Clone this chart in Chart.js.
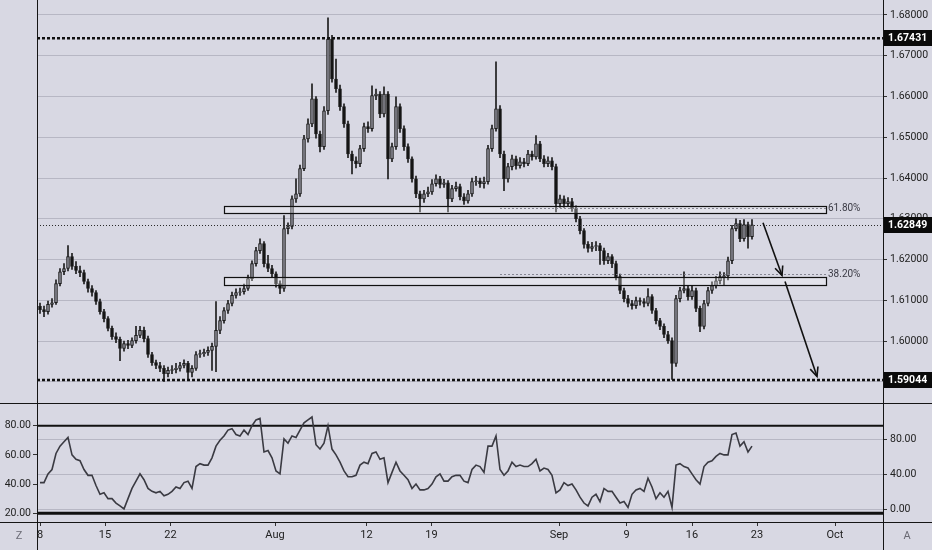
<!DOCTYPE html>
<html><head><meta charset="utf-8">
<script src="https://cdn.jsdelivr.net/npm/chart.js@4.4.0/dist/chart.umd.min.js"></script>
<style>
html,body{margin:0;padding:0;background:#d8d8e3;width:932px;height:550px;overflow:hidden}
#c1{position:absolute;left:0;top:0}
#c2{position:absolute;left:0;top:404px}
</style></head><body>
<canvas id="c1" width="932" height="404"></canvas>
<canvas id="c2" width="932" height="146"></canvas>
<script>
// ---- data (price candles, one per bar index) ----
const opens = [1.6085,1.6077,1.6072,1.6090,1.6094,1.6141,1.6170,1.6178,1.6207,1.6183,
 1.6173,1.6168,1.6146,1.6129,1.6119,1.6097,1.6072,1.6055,1.6031,1.6011,
 1.6004,1.5982,1.5994,1.5989,1.6001,1.6014,1.6026,1.6006,1.5967,1.5947,
 1.5940,1.5933,1.5920,1.5928,1.5930,1.5933,1.5940,1.5945,1.5923,1.5933,
 1.5967,1.5969,1.5972,1.5977,1.5987,1.6026,1.6050,1.6075,1.6092,1.6112,
 1.6119,1.6121,1.6129,1.6153,1.6190,1.6222,1.6239,1.6190,1.6178,1.6165,
 1.6141,1.6129,1.6276,1.6281,1.6349,1.6361,1.6423,1.6496,1.6533,1.6594,
 1.6508,1.6477,1.6565,1.6741,1.6643,1.6619,1.6575,1.6533,1.6459,1.6442,
 1.6435,1.6472,1.6526,1.6521,1.6602,1.6606,1.6557,1.6606,1.6447,1.6477,
 1.6575,1.6521,1.6477,1.6447,1.6398,1.6361,1.6349,1.6361,1.6366,1.6386,
 1.6398,1.6384,1.6388,1.6349,1.6374,1.6379,1.6354,1.6344,1.6361,1.6391,
 1.6393,1.6386,1.6391,1.6472,1.6521,1.6570,1.6459,1.6398,1.6428,1.6447,
 1.6430,1.6440,1.6435,1.6459,1.6452,1.6484,1.6447,1.6435,1.6442,1.6428,
 1.6337,1.6349,1.6337,1.6342,1.6325,1.6300,1.6271,1.6237,1.6227,1.6232,
 1.6234,1.6222,1.6197,1.6207,1.6190,1.6158,1.6124,1.6104,1.6092,1.6087,
 1.6099,1.6097,1.6092,1.6109,1.6075,1.6050,1.6036,1.6016,1.6001,1.5945,
 1.6104,1.6124,1.6129,1.6109,1.6124,1.6080,1.6036,1.6092,1.6124,1.6136,
 1.6148,1.6158,1.6160,1.6197,1.6276,1.6288,1.6251,1.6286,1.6256];
const highs = [1.6093,1.6086,1.6098,1.6104,1.6150,1.6178,1.6190,1.6234,1.6215,1.6195,
 1.6184,1.6174,1.6152,1.6136,1.6124,1.6103,1.6078,1.6060,1.6037,1.6020,
 1.6010,1.6000,1.6002,1.6008,1.6036,1.6036,1.6034,1.6012,1.5972,1.5953,
 1.5948,1.5940,1.5936,1.5940,1.5945,1.5948,1.5954,1.5950,1.5940,1.5974,
 1.5978,1.5980,1.5986,1.5995,1.6097,1.6060,1.6082,1.6100,1.6120,1.6128,
 1.6130,1.6140,1.6162,1.6197,1.6230,1.6251,1.6244,1.6210,1.6186,1.6170,
 1.6148,1.6308,1.6290,1.6356,1.6398,1.6432,1.6505,1.6545,1.6631,1.6600,
 1.6515,1.6575,1.6793,1.6750,1.6692,1.6628,1.6582,1.6540,1.6466,1.6452,
 1.6480,1.6535,1.6538,1.6626,1.6618,1.6612,1.6624,1.6612,1.6486,1.6599,
 1.6582,1.6528,1.6484,1.6452,1.6405,1.6368,1.6370,1.6378,1.6396,1.6408,
 1.6404,1.6397,1.6394,1.6382,1.6390,1.6385,1.6362,1.6370,1.6400,1.6404,
 1.6400,1.6402,1.6480,1.6530,1.6685,1.6578,1.6466,1.6436,1.6456,1.6454,
 1.6450,1.6448,1.6468,1.6466,1.6504,1.6490,1.6455,1.6452,1.6450,1.6434,
 1.6358,1.6356,1.6352,1.6350,1.6332,1.6306,1.6276,1.6244,1.6242,1.6244,
 1.6240,1.6228,1.6215,1.6212,1.6196,1.6164,1.6130,1.6112,1.6100,1.6108,
 1.6106,1.6104,1.6129,1.6114,1.6080,1.6056,1.6042,1.6024,1.6008,1.6112,
 1.6132,1.6170,1.6136,1.6134,1.6130,1.6086,1.6100,1.6132,1.6145,1.6158,
 1.6170,1.6168,1.6206,1.6284,1.6300,1.6296,1.6298,1.6292,1.6298];
const lows = [1.6068,1.6060,1.6066,1.6083,1.6090,1.6135,1.6163,1.6172,1.6176,1.6165,
 1.6158,1.6140,1.6120,1.6110,1.6090,1.6066,1.6047,1.6025,1.6004,1.5996,
 1.5952,1.5975,1.5981,1.5984,1.5995,1.6008,1.5998,1.5960,1.5940,1.5932,
 1.5925,1.5901,1.5912,1.5920,1.5922,1.5926,1.5934,1.5903,1.5912,1.5928,
 1.5960,1.5962,1.5965,1.5928,1.5925,1.6018,1.6044,1.6068,1.6086,1.6105,
 1.6112,1.6115,1.6124,1.6148,1.6184,1.6215,1.6182,1.6170,1.6158,1.6132,
 1.6116,1.6122,1.6263,1.6275,1.6340,1.6355,1.6418,1.6488,1.6526,1.6498,
 1.6464,1.6470,1.6556,1.6635,1.6610,1.6566,1.6524,1.6450,1.6410,1.6425,
 1.6428,1.6465,1.6512,1.6515,1.6592,1.6548,1.6550,1.6398,1.6440,1.6470,
 1.6512,1.6468,1.6438,1.6390,1.6352,1.6317,1.6340,1.6354,1.6360,1.6380,
 1.6376,1.6377,1.6317,1.6342,1.6368,1.6346,1.6335,1.6338,1.6355,1.6382,
 1.6377,1.6375,1.6385,1.6465,1.6515,1.6450,1.6369,1.6390,1.6420,1.6422,
 1.6424,1.6427,1.6430,1.6444,1.6446,1.6440,1.6427,1.6428,1.6420,1.6317,
 1.6328,1.6328,1.6330,1.6318,1.6292,1.6263,1.6228,1.6218,1.6220,1.6222,
 1.6188,1.6188,1.6190,1.6180,1.6150,1.6116,1.6096,1.6084,1.6078,1.6080,
 1.6088,1.6084,1.6086,1.6068,1.6042,1.6028,1.6008,1.5994,1.5906,1.5938,
 1.6096,1.6118,1.6100,1.6102,1.6072,1.6023,1.6030,1.6086,1.6117,1.6130,
 1.6140,1.6136,1.6150,1.6190,1.6270,1.6244,1.6245,1.6228,1.6250];
const closes = [1.6077,1.6072,1.6090,1.6094,1.6141,1.6170,1.6178,1.6207,1.6183,1.6173,
 1.6168,1.6146,1.6129,1.6119,1.6097,1.6072,1.6055,1.6031,1.6011,1.6004,
 1.5982,1.5994,1.5989,1.6001,1.6014,1.6026,1.6006,1.5967,1.5947,1.5940,
 1.5933,1.5920,1.5928,1.5930,1.5933,1.5940,1.5945,1.5923,1.5933,1.5967,
 1.5969,1.5972,1.5977,1.5987,1.6026,1.6050,1.6075,1.6092,1.6112,1.6119,
 1.6121,1.6129,1.6153,1.6190,1.6222,1.6239,1.6190,1.6178,1.6165,1.6141,
 1.6129,1.6276,1.6281,1.6349,1.6361,1.6423,1.6496,1.6533,1.6594,1.6508,
 1.6477,1.6565,1.6741,1.6643,1.6619,1.6575,1.6533,1.6459,1.6442,1.6435,
 1.6472,1.6526,1.6521,1.6602,1.6606,1.6557,1.6606,1.6447,1.6477,1.6575,
 1.6521,1.6477,1.6447,1.6398,1.6361,1.6349,1.6361,1.6366,1.6386,1.6398,
 1.6384,1.6388,1.6349,1.6374,1.6379,1.6354,1.6344,1.6361,1.6391,1.6393,
 1.6386,1.6391,1.6472,1.6521,1.6570,1.6459,1.6398,1.6428,1.6447,1.6430,
 1.6440,1.6435,1.6459,1.6452,1.6484,1.6447,1.6435,1.6442,1.6428,1.6337,
 1.6349,1.6337,1.6342,1.6325,1.6300,1.6271,1.6237,1.6227,1.6232,1.6234,
 1.6222,1.6197,1.6207,1.6190,1.6158,1.6124,1.6104,1.6092,1.6087,1.6099,
 1.6097,1.6092,1.6109,1.6075,1.6050,1.6036,1.6016,1.6001,1.5945,1.6104,
 1.6124,1.6129,1.6109,1.6124,1.6080,1.6036,1.6092,1.6124,1.6136,1.6148,
 1.6158,1.6160,1.6197,1.6276,1.6288,1.6251,1.6286,1.6256,1.6285];
const rsiValues = [41,41,47,50,61,66,69,72,60,57,
 56,50,46,46,39,33,34,30,30,27,
 25,23,30,37,42,47,43,37,35,34,
 35,32,33,35,38,37,41,42,37,52,
 54,53,53,58,66,70,73,77,78,74,
 73,77,74,80,84,85,62,63,58,49,
 47,71,68,73,72,77,82,84,86,67,
 64,68,80,64,60,55,49,45,45,46,
 53,55,54,61,62,57,58,41,48,55,
 49,46,43,37,40,36,36,37,40,45,
 47,42,42,45,46,46,42,41,50,53,
 52,48,66,66,73,50,46,49,55,52,
 53,52,52,54,57,49,51,50,46,34,
 36,41,39,40,36,31,27,25,31,33,
 28,37,35,35,31,27,28,24,33,36,
 37,35,44,38,30,34,31,35,24,53,
 54,52,51,47,43,40,52,55,56,59,
 61,60,60,74,75,66,69,62,66];

// ---- axis ticks ----
const xTickPositions = [0,16.25,32.625,58.75,81.625,97.875,129.75,146.625,163,179.25,198.75];
const xTickLabels = ['8','15','22','Aug','12','19','Sep','9','16','23','Oct'];
const priceTicks = [1.59,1.60,1.61,1.62,1.63,1.64,1.65,1.66,1.67,1.68];
const rsiLeftTicks = [20,40,60,80];
const rsiRightTicks = [0,40,80];
const rsiBands = [80,20];

// ---- drawings (in data units) ----
const dashedLevels = [1.67431, 1.59044];
const currentPrice = 1.62849;
const labelledLevels = [1.67431, 1.62849, 1.59044];
const zones = [[46,196.5,1.6332,1.6315],[46,196.5,1.6156,1.6138]];
const fibLevels = [1.6327, 1.6165];
const fibLabels = ['61.80%','38.20%'];
const fibRange = [115,196.5];
const arrows = [[180.75,1.6290,185.5,1.6161],[186.25,1.6146,194.25,1.5913]];

const X_MIN=-0.75, X_MAX=210.75;
const FONT = "Roboto,'Liberation Sans',sans-serif";
const UP_FILL='#85858f', DOWN_FILL='#141414', EDGE='#1c1c1c';

function zeroPad(s){s.paddingTop=0;s.paddingBottom=0;s.paddingLeft=0;s.paddingRight=0;}
function seg(ctx,x1,y1,x2,y2){ctx.beginPath();ctx.moveTo(x1,y1);ctx.lineTo(x2,y2);ctx.stroke();}
function arrow(ctx,x1,y1,x2,y2){
  seg(ctx,x1,y1,x2,y2);
  const a=Math.atan2(y2-y1,x2-x1),L=10,w=0.42;
  ctx.beginPath();
  ctx.moveTo(x2-L*Math.cos(a-w),y2-L*Math.sin(a-w));
  ctx.lineTo(x2,y2);
  ctx.lineTo(x2-L*Math.cos(a+w),y2-L*Math.sin(a+w));
  ctx.stroke();
}

const bodyData = closes.map((c,i)=>({x:i,y:[opens[i],c]}));
const wickData = closes.map((c,i)=>({x:i,y:[lows[i],highs[i]]}));
const isUp = i => closes[i] >= opens[i];

const mainPlugin = {
  id:'mainAnnot',
  afterDatasetsDraw(chart){
    const {ctx, chartArea:a, scales:{x,y}} = chart;
    ctx.save();
    ctx.setLineDash([]); ctx.lineWidth=1.2; ctx.strokeStyle='#111';
    ctx.fillStyle='rgba(255,255,255,0.28)';
    zones.forEach(z=>{
      const x1=Math.round(x.getPixelForValue(z[0]))+0.5, x2=Math.round(x.getPixelForValue(z[1]))+0.5;
      const y1=Math.round(y.getPixelForValue(z[2]))+0.5, y2=Math.round(y.getPixelForValue(z[3]))+0.5;
      ctx.fillRect(x1,y1,x2-x1,y2-y1); ctx.strokeRect(x1,y1,x2-x1,y2-y1);
    });
    ctx.setLineDash([2,2]); ctx.lineWidth=1; ctx.strokeStyle='rgba(125,125,138,0.9)';
    const fx1=x.getPixelForValue(fibRange[0]), fx2=x.getPixelForValue(fibRange[1]);
    fibLevels.forEach((p,k)=>{
      const yy=Math.round(y.getPixelForValue(p))+0.5;
      seg(ctx,fx1,yy,fx2,yy);
      ctx.fillStyle='#3a3a44'; ctx.font='10px '+FONT; ctx.textAlign='left'; ctx.textBaseline='middle';
      ctx.fillText(fibLabels[k], fx2+2, yy);
    });
    ctx.setLineDash([1,2]); ctx.lineWidth=1; ctx.strokeStyle='#2a2a2a';
    let yc=Math.round(y.getPixelForValue(currentPrice))+0.5;
    seg(ctx,a.left,yc,a.right,yc);
    ctx.setLineDash([3,2]); ctx.lineWidth=2.5; ctx.strokeStyle='#111';
    dashedLevels.forEach(p=>{const yy=y.getPixelForValue(p); seg(ctx,a.left,yy,a.right,yy);});
    ctx.setLineDash([]); ctx.lineWidth=1.6; ctx.strokeStyle='#111';
    arrows.forEach(r=>arrow(ctx,x.getPixelForValue(r[0]),y.getPixelForValue(r[1]),x.getPixelForValue(r[2]),y.getPixelForValue(r[3])));
    ctx.restore();
  },
  afterDraw(chart){
    const {ctx, scales:{y}} = chart;
    ctx.save();
    ctx.strokeStyle='#151515'; ctx.lineWidth=1; ctx.setLineDash([]);
    seg(ctx,37.5,0,37.5,404); seg(ctx,883.5,0,883.5,404); seg(ctx,0,403.5,932,403.5);
    labelledLevels.forEach(p=>{
      const yy=Math.round(y.getPixelForValue(p));
      ctx.fillStyle='#0a0a0a'; ctx.fillRect(884,yy-8,48,16);
      ctx.fillStyle='#ffffff'; ctx.font='bold 10.5px '+FONT; ctx.textAlign='left'; ctx.textBaseline='middle';
      ctx.fillText(p.toFixed(5),888,yy+0.5);
    });
    ctx.restore();
  }
};

new Chart(document.getElementById('c1'),{
  type:'bar',
  data:{datasets:[
    {label:'body',data:bodyData,order:0,grouped:false,barThickness:3,borderWidth:1,borderSkipped:false,
     backgroundColor:c=>isUp(c.dataIndex)?UP_FILL:DOWN_FILL,borderColor:EDGE},
    {label:'wick',data:wickData,order:1,grouped:false,barThickness:1,borderWidth:0,backgroundColor:'#1c1c1c'}
  ]},
  options:{
    responsive:false,animation:false,devicePixelRatio:1,
    layout:{padding:{left:37,right:0,top:0,bottom:0}},
    plugins:{legend:{display:false},tooltip:{enabled:false}},
    scales:{
      x:{type:'linear',display:false,min:X_MIN,max:X_MAX,offset:false},
      y:{position:'right',min:1.58455,max:1.68368,
         afterBuildTicks(s){s.ticks=priceTicks.map(v=>({value:v}));},
         afterFit(s){s.width=49;zeroPad(s);},
         ticks:{callback:v=>Number(v).toFixed(5),color:'#222',font:{family:FONT,size:10.5},padding:3},
         grid:{color:'#b7b7c4',tickColor:'#333',tickLength:4,lineWidth:1},
         border:{display:false}}
    }
  },
  plugins:[mainPlugin]
});

const rsiPlugin = {
  id:'rsiAnnot',
  beforeDatasetsDraw(chart){
    const {ctx, chartArea:a, scales:{yL}} = chart;
    ctx.save(); ctx.strokeStyle='#111';
    rsiBands.forEach((v,k)=>{ctx.lineWidth=k===0?2:3; const yy=yL.getPixelForValue(v); seg(ctx,a.left,yy,a.right,yy);});
    ctx.restore();
  },
  afterDraw(chart){
    const {ctx} = chart;
    ctx.save(); ctx.strokeStyle='#151515'; ctx.lineWidth=1;
    seg(ctx,37.5,0,37.5,146); seg(ctx,883.5,0,883.5,146); seg(ctx,0,118.5,932,118.5);
    ctx.fillStyle='#6a6a74'; ctx.font='11px '+FONT; ctx.textAlign='center'; ctx.textBaseline='middle';
    ctx.fillText('Z',19,132); ctx.fillText('A',907,132);
    ctx.restore();
  }
};

new Chart(document.getElementById('c2'),{
  type:'line',
  data:{datasets:[{data:rsiValues.map((v,i)=>({x:i,y:v})),yAxisID:'yL',borderColor:'#3a3a42',borderWidth:1.6,pointRadius:0,tension:0,fill:false}]},
  options:{
    responsive:false,animation:false,devicePixelRatio:1,
    layout:{padding:0},
    plugins:{legend:{display:false},tooltip:{enabled:false}},
    scales:{
      x:{type:'linear',min:X_MIN,max:X_MAX,offset:false,
         afterBuildTicks(s){s.ticks=xTickPositions.map(v=>({value:v}));},
         afterFit(s){s.height=28;zeroPad(s);},
         ticks:{autoSkip:false,maxRotation:0,callback:(v,i)=>xTickLabels[i],color:'#222',font:{family:FONT,size:11},padding:3},
         grid:{drawOnChartArea:false,tickColor:'#333',tickLength:4},
         border:{display:false}},
      yL:{position:'left',min:14,max:94.9,
         afterBuildTicks(s){s.ticks=rsiLeftTicks.map(v=>({value:v}));},
         afterFit(s){s.width=37;zeroPad(s);},
         ticks:{callback:v=>Number(v).toFixed(2),color:'#222',font:{family:FONT,size:10.5},padding:2},
         grid:{drawOnChartArea:false,tickColor:'#333',tickLength:4},
         border:{display:false}},
      yR:{position:'right',min:-14.5,max:120.3,
         afterBuildTicks(s){s.ticks=rsiRightTicks.map(v=>({value:v}));},
         afterFit(s){s.width=49;zeroPad(s);},
         ticks:{callback:v=>Number(v).toFixed(2),color:'#222',font:{family:FONT,size:10.5},padding:3},
         grid:{color:'#b7b7c4',tickColor:'#333',tickLength:4},
         border:{display:false}}
    }
  },
  plugins:[rsiPlugin]
});
</script></body></html>
